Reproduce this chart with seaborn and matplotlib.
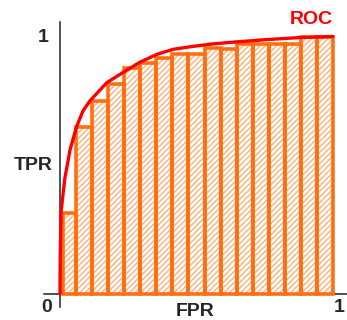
import numpy as np
import pandas as pd
import matplotlib
matplotlib.use("Agg")
import matplotlib.pyplot as plt
import seaborn as sns

# ---- data ----
fpr = [0.0, 0.001, 0.004, 0.018, 0.037, 0.061, 0.084, 0.110, 0.171, 0.231,
       0.293, 0.354, 0.414, 0.476, 0.549, 0.634, 0.758, 0.879, 1.0]
tpr = [0.0, 0.15, 0.32, 0.45, 0.56, 0.65, 0.71, 0.75, 0.82, 0.86,
       0.90, 0.93, 0.95, 0.96, 0.97, 0.978, 0.988, 0.996, 1.0]

bin_edges = [0.01] + [i / 17 for i in range(1, 18)]
bar_heights = [0.312, 0.649, 0.750, 0.815, 0.876, 0.898, 0.918, 0.932, 0.932,
               0.954, 0.951, 0.970, 0.970, 0.970, 0.970, 0.997, 0.997]

x_ticklabels = ["0", "1"]
y_ticklabels = ["1"]

sns.set_style("white")
plt.rcParams["font.family"] = ["Liberation Sans", "DejaVu Sans"]
plt.rcParams["hatch.linewidth"] = 1.0

W, H = 347, 320
fig = plt.figure(figsize=(W / 100, H / 100), dpi=100)
ax = fig.add_axes([44 / W, 1 - 307 / H, (347 - 44) / W, (307 - 22) / H])

centers = [(bin_edges[i] + bin_edges[i + 1]) / 2 for i in range(len(bar_heights))]
df = pd.DataFrame({"x": centers, "h": bar_heights})

# hatch layer (light orange)
sns.histplot(data=df, x="x", weights="h", bins=bin_edges, ax=ax,
             color="white", fill=True, edgecolor="#ffb07a", hatch="//////",
             linewidth=0, alpha=1, stat="count")
# outline layer (strong orange)
sns.histplot(data=df, x="x", weights="h", bins=bin_edges, ax=ax,
             fill=False, color="#ff6f0f", edgecolor="#ff6f0f", linewidth=2.6,
             stat="count", element="bars")

sns.lineplot(x=fpr, y=tpr, sort=False, ax=ax, color="#ff0000", linewidth=2.4,
             solid_capstyle="round", estimator=None)

ax.set_xlim((44 - 60) / 273, (347 - 60) / 273)
ax.set_ylim(-(307 - 293.5) / 257, (293.5 - 22) / 257)
ax.set_xlabel("")
ax.set_ylabel("")
ax.set_xticks([])
ax.set_yticks([])
for s in ["top", "right"]:
    ax.spines[s].set_visible(False)
ax.spines["left"].set_position(("data", 0))
ax.spines["bottom"].set_position(("data", 0))
for s in ["left", "bottom"]:
    ax.spines[s].set_color("#222222")
    ax.spines[s].set_linewidth(1.1)
    ax.spines[s].set_zorder(0.5)

fs = 14
def ftxt(px, py, s, **kw):
    fig.text(px / W, 1 - py / H, s, fontsize=fs, fontweight="bold",
             ha="center", va="center", **kw)

ftxt(43, 38, y_ticklabels[0])
ftxt(47, 308, x_ticklabels[0])
ftxt(339, 308, x_ticklabels[1])
ftxt(33, 165, "TPR")
ftxt(195, 312, "FPR")
ftxt(311, 19, "ROC", color="#ff0000")

fig.savefig("out.png", dpi=100)
